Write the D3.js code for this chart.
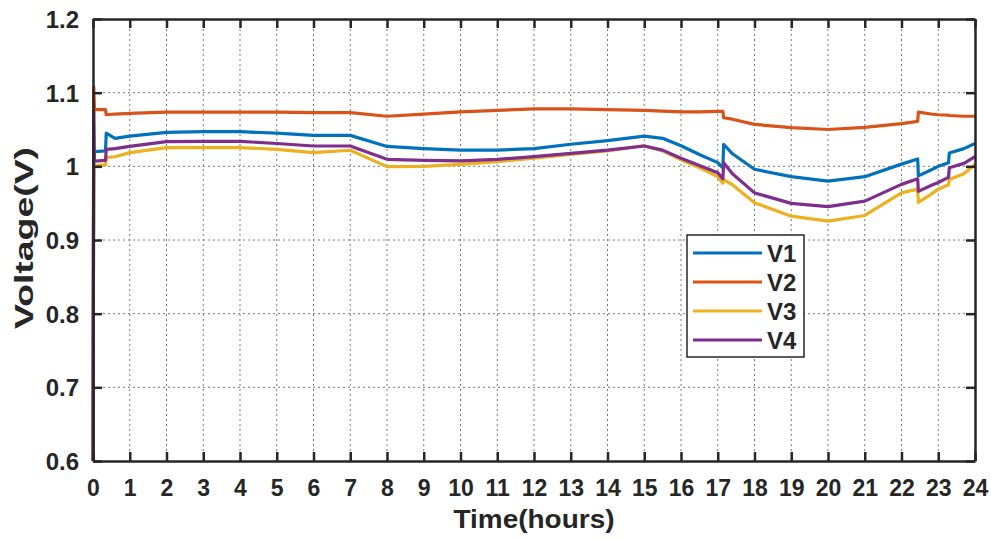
<!DOCTYPE html>
<html>
<head>
<meta charset="utf-8">
<script src="https://cdn.jsdelivr.net/npm/d3@7"></script>
<style>
  body { margin: 0; background: #fff; }
  text { font-family: "Liberation Sans", Arial, Helvetica, sans-serif; font-weight: bold; fill: #262626; }
</style>
</head>
<body>
<svg id="chart" width="991" height="538"></svg>
<script>
// Sample times (hours) shared by all four node voltages
const hours = [0, 0.02, 0.04, 0.34, 0.36, 0.6, 1, 2, 3, 4, 5, 6, 7, 8, 9, 10, 11, 12, 13, 14, 15,
  15.5, 16, 16.5, 17, 17.14, 17.16, 17.4, 18, 19, 20, 21, 22, 22.44, 22.46, 22.8, 23, 23.28, 23.3, 23.7, 24];

const v1 = [0.6, 1.020, 1.020, 1.021, 1.045, 1.038, 1.041, 1.046, 1.047, 1.047, 1.045, 1.042, 1.042, 1.027,
  1.024, 1.022, 1.022, 1.024, 1.030, 1.035, 1.041, 1.038, 1.028, 1.016, 1.005, 0.998, 1.030, 1.017,
  0.996, 0.986, 0.980, 0.986, 1.003, 1.010, 0.987, 0.995, 1.000, 1.005, 1.018, 1.024, 1.031];

const v2 = [0.6, 1.108, 1.077, 1.077, 1.070, 1.071, 1.072, 1.0735, 1.0735, 1.0735, 1.0735, 1.073, 1.073,
  1.068, 1.071, 1.074, 1.076, 1.078, 1.078, 1.077, 1.076, 1.075, 1.074, 1.074, 1.0745, 1.0745, 1.066,
  1.064, 1.057, 1.0525, 1.050, 1.053, 1.058, 1.061, 1.0735, 1.071, 1.070, 1.0695, 1.069, 1.068, 1.068];

const v3 = [0.6, 1.000, 1.001, 1.002, 1.012, 1.013, 1.0186, 1.0255, 1.0255, 1.0255, 1.023, 1.0186, 1.0218,
  0.9996, 1.000, 1.0027, 1.0064, 1.011, 1.0163, 1.021, 1.028, 1.021, 1.009, 0.998, 0.986, 0.977, 0.982,
  0.975, 0.9506, 0.9324, 0.9256, 0.9333, 0.964, 0.969, 0.951, 0.962, 0.969, 0.975, 0.982, 0.990, 1.0027];

const v4 = [0.6, 1.075, 1.007, 1.008, 1.023, 1.024, 1.027, 1.0336, 1.034, 1.034, 1.031, 1.0276, 1.0276,
  1.0095, 1.008, 1.0073, 1.0095, 1.0132, 1.0177, 1.022, 1.0276, 1.022, 1.011, 1.001, 0.9914, 0.983, 1.005,
  0.990, 0.964, 0.9497, 0.9452, 0.9528, 0.9755, 0.983, 0.966, 0.974, 0.978, 0.985, 0.998, 1.004, 1.0132];

const seriesNames = ["V1", "V2", "V3", "V4"];
const seriesColors = ["#0072BD", "#D95319", "#EDB120", "#7E2F8E"];

const xTickValues = d3.range(0, 25);
const yTickValues = [0.6, 0.7, 0.8, 0.9, 1.0, 1.1, 1.2];
const yTickLabels = ["0.6", "0.7", "0.8", "0.9", "1", "1.1", "1.2"];

const svg = d3.select("#chart");
const margin = { left: 93, right: 16, top: 19, bottom: 77 };
const W = +svg.attr("width"), H = +svg.attr("height");
const x = d3.scaleLinear().domain([0, 24]).range([margin.left, W - margin.right]);
const y = d3.scaleLinear().domain([0.6, 1.2]).range([H - margin.bottom, margin.top]);

const axisColor = "#262626";
const tickLen = 9;

// dotted grid
const grid = svg.append("g").attr("stroke", "#7a7a7a").attr("stroke-width", 1).attr("stroke-dasharray", "2,3");
grid.selectAll(".gx").data(xTickValues.slice(1, -1)).join("line")
  .attr("x1", d => x(d)).attr("x2", d => x(d)).attr("y1", y(0.6)).attr("y2", y(1.2));
grid.selectAll(".gy").data(yTickValues.slice(1, -1)).join("line")
  .attr("y1", d => y(d)).attr("y2", d => y(d)).attr("x1", x(0)).attr("x2", x(24));

// series lines
const line = d3.line().x((d, i) => x(hours[i])).y(d => y(d));
const seriesData = [v1, v2, v3, v4];
svg.append("g").selectAll("path").data(seriesData).join("path")
  .attr("d", line)
  .attr("fill", "none")
  .attr("stroke", (d, i) => seriesColors[i])
  .attr("stroke-width", 3.2)
  .attr("stroke-linejoin", "round");

// axes with inward ticks on all four sides
const tickFmt = d => yTickLabels[yTickValues.indexOf(d)];
const axB = svg.append("g").attr("transform", `translate(0,${y(0.6)})`)
  .call(d3.axisBottom(x).tickValues(xTickValues).tickSizeInner(-tickLen).tickSizeOuter(0).tickPadding(19).tickFormat(d3.format("d")));
const axT = svg.append("g").attr("transform", `translate(0,${y(1.2)})`)
  .call(d3.axisTop(x).tickValues(xTickValues).tickSizeInner(-tickLen).tickSizeOuter(0).tickFormat(""));
const axL = svg.append("g").attr("transform", `translate(${x(0)},0)`)
  .call(d3.axisLeft(y).tickValues(yTickValues).tickSizeInner(-tickLen).tickSizeOuter(0).tickPadding(14).tickFormat(tickFmt));
const axR = svg.append("g").attr("transform", `translate(${x(24)},0)`)
  .call(d3.axisRight(y).tickValues(yTickValues).tickSizeInner(-tickLen).tickSizeOuter(0).tickFormat(""));

[axB, axT, axL, axR].forEach(g => {
  g.select(".domain").attr("stroke", axisColor).attr("stroke-width", 2.5);
  g.selectAll(".tick line").attr("stroke", axisColor).attr("stroke-width", 2.5);
  g.selectAll(".tick text").attr("fill", axisColor).style("font-weight", "bold")
    .style("font-family", '"Liberation Sans", Arial, sans-serif');
});
axB.selectAll(".tick text").style("font-size", "23px").attr("dy", "0.71em");
axL.selectAll(".tick text").style("font-size", "24px").attr("dy", "0.36em");

// axis titles
svg.append("text")
  .attr("x", (x(0) + x(24)) / 2).attr("y", 528)
  .attr("text-anchor", "middle")
  .style("font-size", "25px")
  .attr("textLength", 161).attr("lengthAdjust", "spacingAndGlyphs")
  .text("Time(hours)");

svg.append("text")
  .attr("transform", `translate(33,${(y(0.6) + y(1.2)) / 2 - 2}) rotate(-90)`)
  .attr("text-anchor", "middle")
  .style("font-size", "26px")
  .attr("textLength", 182).attr("lengthAdjust", "spacingAndGlyphs")
  .text("Voltage(V)");

// legend
const legend = svg.append("g").attr("transform", "translate(687,235)");
legend.append("rect").attr("width", 117).attr("height", 122)
  .attr("fill", "#fff").attr("stroke", "#262626").attr("stroke-width", 1.5);
const item = legend.selectAll(".item").data(seriesNames).join("g")
  .attr("transform", (d, i) => `translate(0,${18 + i * 29})`);
item.append("line").attr("x1", 6).attr("x2", 75).attr("y1", 0).attr("y2", 0)
  .attr("stroke", (d, i) => seriesColors[i]).attr("stroke-width", 3);
item.append("text").attr("x", 80).attr("dy", "0.36em")
  .style("font-size", "24px").text(d => d);
</script>
</body>
</html>
